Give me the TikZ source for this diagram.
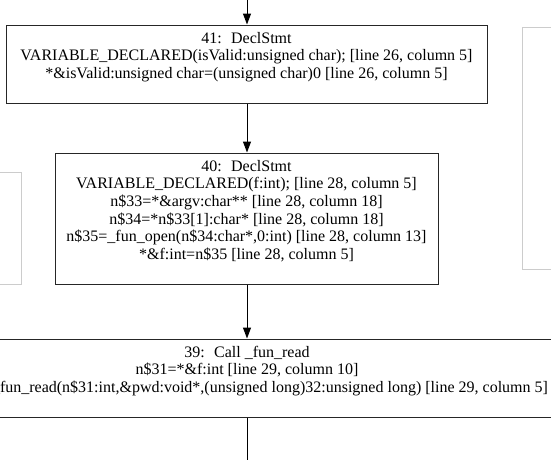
\documentclass[tikz,border=0pt]{standalone}
\usepackage{fontspec}
\setmainfont{Liberation Serif}
\usetikzlibrary{arrows.meta}
\begin{document}
\begin{tikzpicture}[x=1pt,y=-1pt,
  stmt/.style={draw=black!85, line width=1pt, rectangle, inner sep=0pt,
    align=center, font=\fontsize{16}{17.6}\selectfont},
  ghost/.style={draw=black!20, line width=0.8pt, rectangle, inner sep=0pt},
  flow/.style={draw=black, line width=1pt, -{Triangle[length=11pt,width=8pt]}},
  plain/.style={draw=black, line width=1pt},
]
\useasboundingbox (0,0) rectangle (551,459);
\clip (0,0) rectangle (551,459);

% neighbouring nodes, only partly in view
\node[ghost, minimum width=116pt, minimum height=242pt] (sideR) at (580,148) {};
\node[ghost, minimum width=100pt, minimum height=112pt] (sideL) at (-29,228) {};

% statement nodes
\node[stmt, minimum width=481pt, minimum height=78pt] (n41) at (246.5,64)
  {41:~ DeclStmt\\
   VARIABLE\_DECLARED(isValid:unsigned char); [line 26, column 5]\\
   *\&isValid:unsigned char=(unsigned char)0 [line 26, column 5]\\
   \mbox{}};

\node[stmt, minimum width=383pt, minimum height=131pt] (n40) at (246.5,218.5)
  {40:~ DeclStmt\\
   VARIABLE\_DECLARED(f:int); [line 28, column 5]\\
   n\$33=*\&argv:char** [line 28, column 18]\\
   n\$34=*n\$33[1]:char* [line 28, column 18]\\
   n\$35=\_fun\_open(n\$34:char*,0:int) [line 28, column 13]\\
   *\&f:int=n\$35 [line 28, column 5]\\
   \mbox{}};

\node[stmt, minimum width=760pt, minimum height=78pt] (n39) at (247,378)
  {39:~ Call \_fun\_read\\
   n\$31=*\&f:int [line 29, column 10]\\
   \hspace*{46pt}\_fun\_read(n\$31:int,\&pwd:void*,(unsigned long)32:unsigned long) [line 29, column 5]\\
   \mbox{}};

% connectors
\coordinate (inTop) at (247,-2);
\coordinate (outBot) at (247,462);
\draw[flow] (inTop) -- (n41.north -| inTop);
\draw[flow] (n41.south -| inTop) -- (n40.north -| inTop);
\draw[flow] (n40.south -| inTop) -- (n39.north -| inTop);
\draw[plain] (n39.south -| inTop) -- (outBot);
\end{tikzpicture}
\end{document}
